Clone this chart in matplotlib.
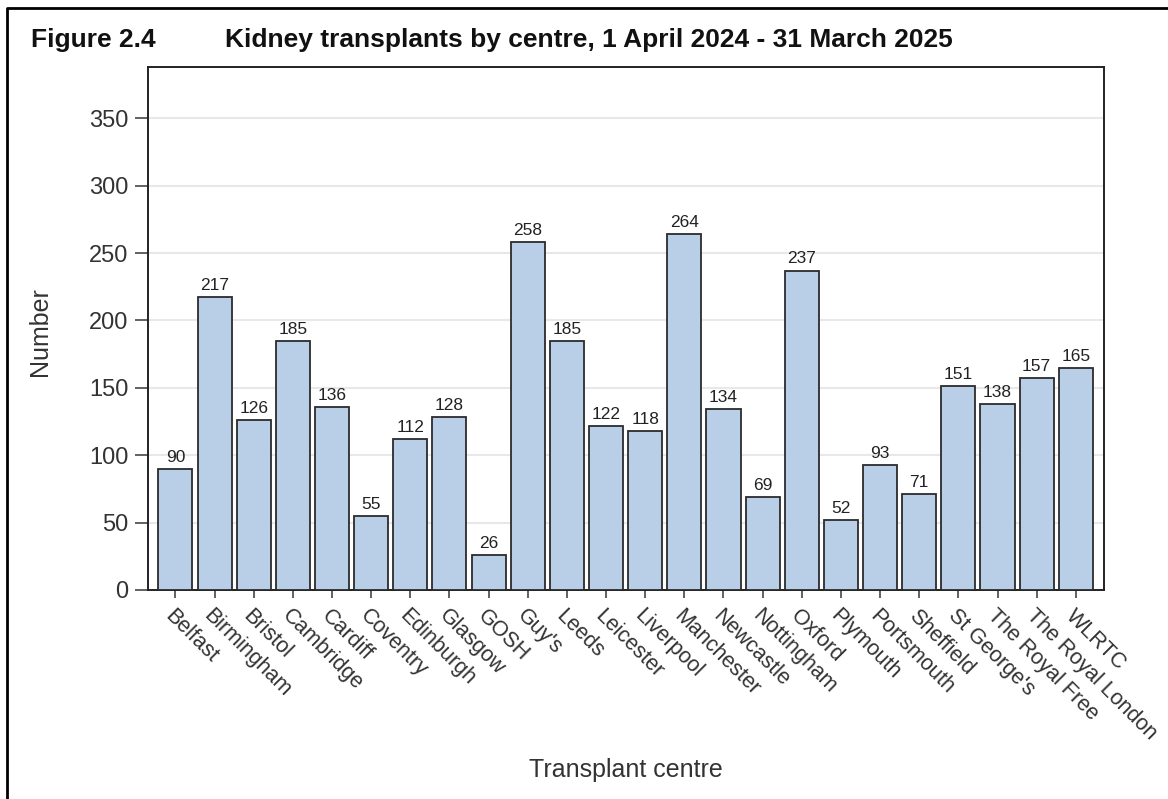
import numpy as np
import matplotlib
matplotlib.use("Agg")
import matplotlib.pyplot as plt
import matplotlib.transforms as mtransforms
from matplotlib.lines import Line2D

plt.rcParams['font.family'] = ['Liberation Sans', 'DejaVu Sans']

# data
centres = ["Belfast", "Birmingham", "Bristol", "Cambridge", "Cardiff", "Coventry",
           "Edinburgh", "Glasgow", "GOSH", "Guy's", "Leeds", "Leicester",
           "Liverpool", "Manchester", "Newcastle", "Nottingham", "Oxford",
           "Plymouth", "Portsmouth", "Sheffield", "St George's", "The Royal Free",
           "The Royal London", "WLRTC"]
transplants = [90, 217, 126, 185, 136, 55, 112, 128, 26, 258, 185, 122,
               118, 264, 134, 69, 237, 52, 93, 71, 151, 138, 157, 165]
yticks = [0, 50, 100, 150, 200, 250, 300, 350]

W, H = 1168, 799
fig = plt.figure(figsize=(W / 100, H / 100), dpi=100)
ax = fig.add_axes([148 / W, 1 - 590 / H, (1104 - 148) / W, (590 - 67) / H])

x = np.arange(len(centres))
ax.bar(x, transplants, width=0.87, color="#b9cfe8", edgecolor="#2b2b2b",
       linewidth=1.3, zorder=3)

for xi, v in zip(x, transplants):
    ax.text(xi, v + 3, str(v), ha="center", va="bottom", fontsize=12.5, color="#222222")

ax.set_xlim(-0.7, len(centres) - 1 + 0.72)
ax.set_ylim(0, 388)
ax.set_yticks(yticks)
ax.yaxis.grid(True, color="#e8e8e8", linewidth=1.5, zorder=0)
ax.set_axisbelow(True)

ax.set_xticks(x)
ax.set_xticklabels(centres, rotation=-45, ha="left", va="top",
                   rotation_mode="anchor", fontsize=15.5, color="#333333")
shift = mtransforms.ScaledTranslation(3 / 100, 0, fig.dpi_scale_trans)
for lab in ax.get_xticklabels():
    lab.set_transform(lab.get_transform() + shift)

ax.tick_params(axis="y", labelsize=17, labelcolor="#333333", length=9.5,
               width=1.3, color="#555555", pad=4.5)
ax.tick_params(axis="x", length=6, width=1.3, color="#555555", pad=5)

for s in ax.spines.values():
    s.set_linewidth(1.4)
    s.set_color("#222222")

fig.text(40 / W, 1 - 332 / H, "Number", rotation=90, ha="center", va="center",
         fontsize=18, color="#333333")
fig.text(626 / W, 1 - 770 / H, "Transplant centre", ha="center", va="center",
         fontsize=18, color="#333333")

fig.text(31 / W, 1 - 40 / H, "Figure 2.4", ha="left", va="center",
         fontsize=19, fontweight="bold", color="#111111")
fig.text(225 / W, 1 - 40 / H, "Kidney transplants by centre, 1 April 2024 - 31 March 2025",
         ha="left", va="center", fontsize=19, fontweight="bold", color="#111111")

# outer frame (left and top edges only visible)
fig.add_artist(Line2D([7 / W, 7 / W, 1.0], [0.0, 1 - 8 / H, 1 - 8 / H],
                      transform=fig.transFigure, color="black", linewidth=2))

fig.savefig("out.png", dpi=100)
